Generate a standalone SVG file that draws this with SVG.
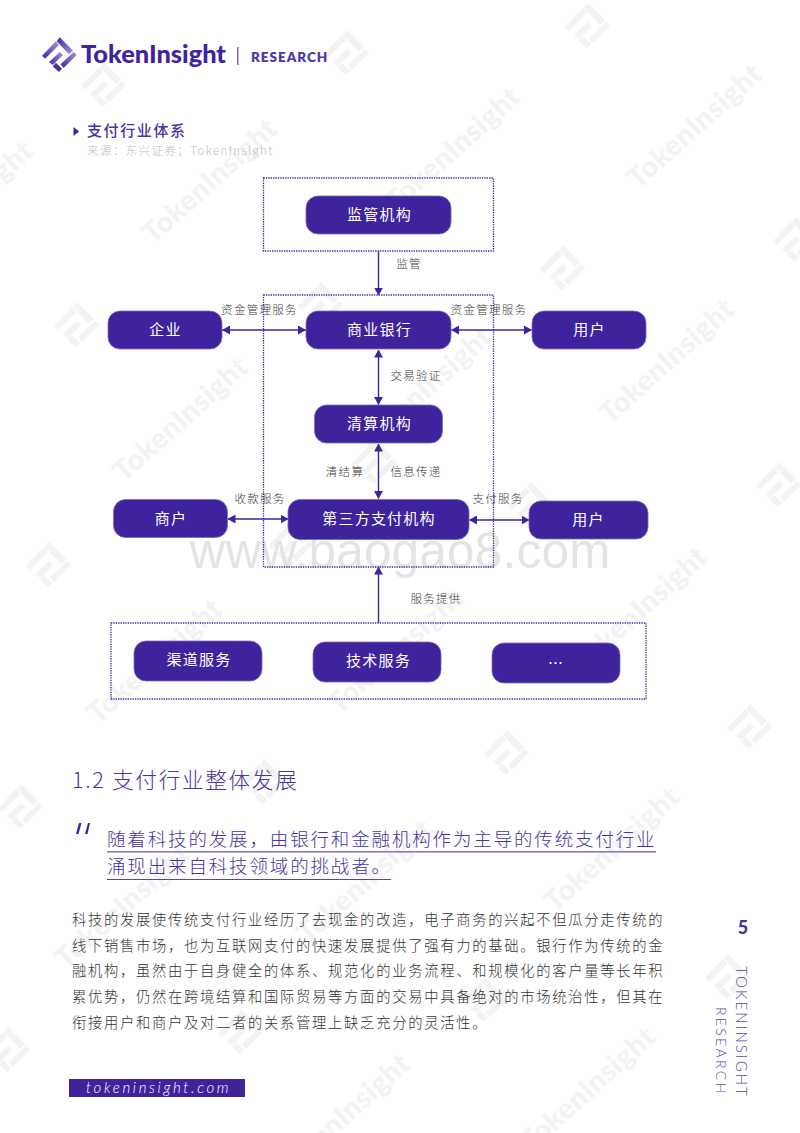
<svg xmlns="http://www.w3.org/2000/svg" width="800" height="1133" viewBox="0 0 800 1133">
<style>
text{font-family:"Noto Sans CJK SC","Noto Sans",sans-serif}
.wm{font-family:"Lato","Noto Sans",sans-serif;font-weight:900;font-size:28.5px;fill:#f2f4f3;letter-spacing:.6px}
.node rect{fill:#3f239d;stroke:#7d68bd;stroke-width:.8}
.node text{fill:#fff;font-size:15px;letter-spacing:1.2px;text-anchor:middle}
.zone{fill:none;stroke:#3f239d;stroke-width:1.3;stroke-dasharray:1.3 1.1}
.lbl{fill:#3a3a3a;font-size:11.5px;letter-spacing:1.3px;text-anchor:middle;font-weight:300}
.con{stroke:#3f239d;stroke-width:1.4;fill:none;marker-end:url(#ah);marker-start:url(#as)}
.one{stroke:#3f239d;stroke-width:1.4;fill:none;marker-end:url(#ah)}
.body{fill:#333;font-size:14.3px;font-weight:300;letter-spacing:1.71px}
.quote{fill:#4a32a0;font-size:18.5px;font-weight:300;letter-spacing:1.85px}
</style>
<defs>
<marker id="ah" markerUnits="userSpaceOnUse" markerWidth="8" markerHeight="9" refX="7.500" refY="4.500" orient="auto"><path d="M0 0L8 4.500L0 9z" fill="#3f239d"/></marker>
<marker id="as" markerUnits="userSpaceOnUse" markerWidth="8" markerHeight="9" refX=".5" refY="4.500" orient="auto"><path d="M8 0L0 4.500L8 9z" fill="#3f239d"/></marker>
<linearGradient id="g1" x1="0" y1="1" x2="1" y2="0"><stop offset="0" stop-color="#3f239d"/><stop offset="1" stop-color="#a898d8"/></linearGradient>
<linearGradient id="g2" x1="0" y1="0" x2="1" y2="1"><stop offset="0" stop-color="#3f239d"/><stop offset="1" stop-color="#a898d8"/></linearGradient>
<path id="mark" d="M-22 1L-4-18L0-13L-18 5ZM1-23L18-6L13-1L-3-18ZM19-4L23 0L6 17L2 12ZM1-4L5 0L-8 13L-13 9ZM-4 10L4 18L0 22L-8 15Z"/>
</defs>
<g id="watermarks" fill="#f2f4f3">
<text class="wm" transform="translate(153,245) rotate(-42)">TokenInsight</text>
<text class="wm" transform="translate(638,190) rotate(-42)">TokenInsight</text>
<text class="wm" transform="translate(-91,267) rotate(-42)">TokenInsight</text>
<text class="wm" transform="translate(396,213) rotate(-42)">TokenInsight</text>
<text class="wm" transform="translate(124,483) rotate(-42)">TokenInsight</text>
<text class="wm" transform="translate(610,425) rotate(-42)">TokenInsight</text>
<text class="wm" transform="translate(368,453) rotate(-42)">TokenInsight</text>
<text class="wm" transform="translate(98,725) rotate(-42)">TokenInsight</text>
<text class="wm" transform="translate(583,673) rotate(-42)">TokenInsight</text>
<text class="wm" transform="translate(339,715) rotate(-42)">TokenInsight</text>
<text class="wm" transform="translate(555,913) rotate(-42)">TokenInsight</text>
<text class="wm" transform="translate(66,970) rotate(-42)">TokenInsight</text>
<text class="wm" transform="translate(308,945) rotate(-42)">TokenInsight</text>
<text class="wm" transform="translate(286,1180) rotate(-42)">TokenInsight</text>
<text class="wm" transform="translate(531,1153) rotate(-42)">TokenInsight</text>
<use href="#mark" x="587" y="26"/><use href="#mark" x="346" y="53"/><use href="#mark" x="103" y="85"/>
<use href="#mark" x="562" y="268"/><use href="#mark" x="76" y="325"/><use href="#mark" x="320" y="305"/>
<use href="#mark" x="778" y="485"/><use href="#mark" x="48" y="565"/><use href="#mark" x="530" y="505"/><use href="#mark" x="290" y="545"/>
<use href="#mark" x="749" y="727"/><use href="#mark" x="506" y="753"/><use href="#mark" x="20" y="807"/><use href="#mark" x="263" y="782"/>
<use href="#mark" x="727" y="977"/><use href="#mark" x="484" y="1000"/><use href="#mark" x="7" y="1050"/><use href="#mark" x="240" y="1032"/>
<use href="#mark" x="795" y="240"/><use href="#mark" x="374" y="462"/>
</g>
<text x="400" y="568" text-anchor="middle" style="font-family:'Liberation Sans',sans-serif;font-size:49.400px;fill:#e3e5e4;letter-spacing:.25px">www.baogao8.com</text>
<g id="header">
<g id="logo" transform="translate(59,55) scale(.77)">
<path d="M-22 1L-4-18L0-13L-18 5Z" fill="url(#g1)"/>
<path d="M1-23L18-6L13-1L-3-18Z" fill="url(#g2)"/>
<path d="M19-4L23 0L6 17L2 12Z" fill="url(#g1)"/>
<path d="M1-4L5 0L-8 13L-13 9Z" fill="url(#g1)"/>
<path d="M-4 10L4 18L0 22L-8 15Z" fill="#4a30a5"/>
</g>
<text x="81" y="63" style="font-family:Lato,sans-serif;font-weight:900;font-size:25.400px;fill:#3f239d">TokenInsight</text>
<rect x="237" y="47" width="1.500" height="18" fill="#7a67b8"/>
<text x="251" y="62" style="font-family:Lato,sans-serif;font-weight:800;font-size:13.500px;fill:#4f38a5;letter-spacing:.98px">RESEARCH</text>
</g>
<g id="title">
<path d="M73.500 127L79 131.500L73.500 136Z" fill="#3f239d"/>
<text x="87" y="136" style="font-size:15px;fill:#4a32a0;letter-spacing:1.6px;font-weight:500">支付行业体系</text>
<text x="87" y="155" style="font-size:11.500px;fill:#bdbdbd;letter-spacing:1.4px;font-weight:300">来源：东兴证券；TokenInsight</text>
</g>
<g id="zones">
<rect class="zone" x="263.500" y="178" width="230" height="73"/>
<rect class="zone" x="263.500" y="295" width="230" height="272"/>
<rect class="zone" x="111" y="623" width="535" height="76"/>
</g>
<g id="connectors">
<path class="one" d="M378.500 251V295"/>
<path class="con" d="M222.500 330H305.500"/>
<path class="con" d="M451.500 330H531.500"/>
<path class="con" d="M378.500 350V404.500"/>
<path class="con" d="M378.500 444V498.500"/>
<path class="con" d="M228 519H288"/>
<path class="con" d="M469.500 520H529"/>
<path class="one" d="M378.500 623V567"/>
</g>
<g id="labels">
<text class="lbl" x="259.500" y="314">资金管理服务</text>
<text class="lbl" x="489" y="314">资金管理服务</text>
<text class="lbl" x="409" y="268">监管</text>
<text class="lbl" x="416" y="380">交易验证</text>
<text class="lbl" x="345" y="476">清结算</text>
<text class="lbl" x="416" y="476">信息传递</text>
<text class="lbl" x="260" y="503">收款服务</text>
<text class="lbl" x="498" y="503">支付服务</text>
<text class="lbl" x="436" y="603">服务提供</text>
</g>
<g id="n1" class="node"><rect x="306" y="196" width="145" height="38" rx="12"/><text x="379.500" y="220">监管机构</text></g>
<g id="n2" class="node"><rect x="108" y="311" width="114" height="38" rx="12"/><text x="165.500" y="335">企业</text></g>
<g id="n3" class="node"><rect x="306" y="311" width="145" height="38" rx="12"/><text x="379.500" y="335">商业银行</text></g>
<g id="n4" class="node"><rect x="532" y="311" width="114" height="38" rx="12"/><text x="589.500" y="335">用户</text></g>
<g id="n5" class="node"><rect x="314.500" y="405" width="128" height="38" rx="12"/><text x="379.500" y="429">清算机构</text></g>
<g id="n6" class="node"><rect x="288" y="499.500" width="181" height="40" rx="12"/><text x="379" y="524">第三方支付机构</text></g>
<g id="n7" class="node"><rect x="113.500" y="499.500" width="114" height="38" rx="12"/><text x="171" y="524">商户</text></g>
<g id="n8" class="node"><rect x="529" y="501" width="119" height="38" rx="12"/><text x="588.500" y="525">用户</text></g>
<g id="n9" class="node"><rect x="134" y="641" width="128" height="40" rx="12"/><text x="199" y="665">渠道服务</text></g>
<g id="n10" class="node"><rect x="313" y="642" width="128" height="40" rx="12"/><text x="378.500" y="666">技术服务</text></g>
<g id="n11" class="node"><rect x="492" y="643" width="128" height="40" rx="12"/><text x="556" y="669">…</text></g>
<g id="section">
<text x="72" y="788" style="font-size:21.600px;fill:#4a32a0;letter-spacing:1.700px;font-weight:300">1.2 支付行业整体发展</text>
<path d="M76 834L79 823H81.500L78.500 834ZM85 834L88 823H90L87.500 834Z" fill="#3f239d"/>
<text class="quote" x="107" y="846">随着科技的发展，由银行和金融机构作为主导的传统支付行业</text>
<rect x="107" y="851" width="549" height="1.600" fill="#8a78c4"/>
<text class="quote" x="107" y="873">涌现出来自科技领域的挑战者。</text>
<rect x="107" y="879" width="284" height="1" fill="#5a43ad"/>
</g>
<g id="body">
<text class="body" x="72" y="925">科技的发展使传统支付行业经历了去现金的改造，电子商务的兴起不但瓜分走传统的</text>
<text class="body" x="72" y="950.500">线下销售市场，也为互联网支付的快速发展提供了强有力的基础。银行作为传统的金</text>
<text class="body" x="72" y="976">融机构，虽然由于自身健全的体系、规范化的业务流程、和规模化的客户量等长年积</text>
<text class="body" x="72" y="1001.500">累优势，仍然在跨境结算和国际贸易等方面的交易中具备绝对的市场统治性，但其在</text>
<text class="body" x="72" y="1027.500">衔接用户和商户及对二者的关系管理上缺乏充分的灵活性。</text>
</g>
<g id="footer">
<rect x="69" y="1079" width="176" height="18" fill="#3f239d"/>
<text x="86" y="1093" style="font-family:Lato,sans-serif;font-style:italic;font-weight:300;font-size:15px;fill:#fff;letter-spacing:2.650px">tokeninsight.com</text>
<text x="743" y="934" text-anchor="middle" style="font-family:Lato,sans-serif;font-weight:900;font-size:18px;fill:#4a32a0">5</text>
<text transform="translate(736,966) rotate(90)" style="font-family:Lato,sans-serif;font-weight:300;font-size:15px;fill:#5a43ad;letter-spacing:2px">TOKENINSIGHT</text>
<text transform="translate(716,1007) rotate(90)" style="font-family:Lato,sans-serif;font-weight:300;font-size:14px;fill:#5a43ad;letter-spacing:2.300px">RESEARCH</text>
</g>
</svg>
